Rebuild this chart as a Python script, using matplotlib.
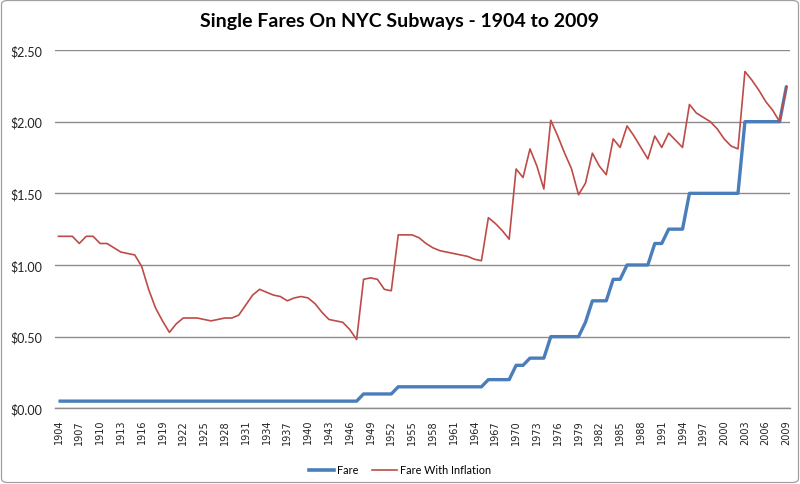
import matplotlib
matplotlib.use("Agg")
import matplotlib.pyplot as plt
from matplotlib.patches import FancyBboxPatch
from matplotlib.lines import Line2D
from matplotlib.ticker import FuncFormatter, FixedLocator

years = list(range(1904, 2010))

fare = [
    0.05, 0.05, 0.05, 0.05, 0.05, 0.05, 0.05, 0.05, 0.05, 0.05,  # 1904-1913
    0.05, 0.05, 0.05, 0.05, 0.05, 0.05, 0.05, 0.05, 0.05, 0.05,  # 1914-1923
    0.05, 0.05, 0.05, 0.05, 0.05, 0.05, 0.05, 0.05, 0.05, 0.05,  # 1924-1933
    0.05, 0.05, 0.05, 0.05, 0.05, 0.05, 0.05, 0.05, 0.05, 0.05,  # 1934-1943
    0.05, 0.05, 0.05, 0.05, 0.10, 0.10, 0.10, 0.10, 0.10, 0.15,  # 1944-1953
    0.15, 0.15, 0.15, 0.15, 0.15, 0.15, 0.15, 0.15, 0.15, 0.15,  # 1954-1963
    0.15, 0.15, 0.20, 0.20, 0.20, 0.20, 0.30, 0.30, 0.35, 0.35,  # 1964-1973
    0.35, 0.50, 0.50, 0.50, 0.50, 0.50, 0.60, 0.75, 0.75, 0.75,  # 1974-1983
    0.90, 0.90, 1.00, 1.00, 1.00, 1.00, 1.15, 1.15, 1.25, 1.25,  # 1984-1993
    1.25, 1.50, 1.50, 1.50, 1.50, 1.50, 1.50, 1.50, 1.50, 2.00,  # 1994-2003
    2.00, 2.00, 2.00, 2.00, 2.00, 2.25,                          # 2004-2009
]

fare_inflation = [
    1.20, 1.20, 1.20, 1.15, 1.20, 1.20, 1.15, 1.15, 1.12, 1.09,  # 1904-1913
    1.08, 1.07, 0.99, 0.83, 0.70, 0.61, 0.53, 0.59, 0.63, 0.63,  # 1914-1923
    0.63, 0.62, 0.61, 0.62, 0.63, 0.63, 0.65, 0.72, 0.79, 0.83,  # 1924-1933
    0.81, 0.79, 0.78, 0.75, 0.77, 0.78, 0.77, 0.73, 0.67, 0.62,  # 1934-1943
    0.61, 0.60, 0.55, 0.48, 0.90, 0.91, 0.90, 0.83, 0.82, 1.21,  # 1944-1953
    1.21, 1.21, 1.19, 1.15, 1.12, 1.10, 1.09, 1.08, 1.07, 1.06,  # 1954-1963
    1.04, 1.03, 1.33, 1.29, 1.24, 1.18, 1.67, 1.61, 1.81, 1.69,  # 1964-1973
    1.53, 2.01, 1.90, 1.78, 1.67, 1.49, 1.57, 1.78, 1.69, 1.63,  # 1974-1983
    1.88, 1.82, 1.97, 1.90, 1.82, 1.74, 1.90, 1.82, 1.92, 1.87,  # 1984-1993
    1.82, 2.12, 2.06, 2.03, 2.00, 1.95, 1.88, 1.83, 1.81, 2.35,  # 1994-2003
    2.29, 2.22, 2.14, 2.08, 2.00, 2.25,                          # 2004-2009
]

y_ticks = [0.0, 0.5, 1.0, 1.5, 2.0, 2.5]
title = "Single Fares On NYC Subways - 1904 to 2009"
series_names = ["Fare", "Fare With Inflation"]

BLUE = "#4A7EBB"
RED = "#BE4B48"
GRID = "#8C8C8C"

fig = plt.figure(figsize=(8.0, 4.85), dpi=100, facecolor="white")
W, H = 800, 485

left, right = 55 / W, 790 / W
bottom, top = (H - 409.3) / H, (H - 51) / H
ax = fig.add_axes([left, bottom, right - left, top - bottom])
ax.set_facecolor("none")

x = list(range(len(years)))
ax.plot(x, fare, color=BLUE, lw=2.4, solid_capstyle="butt", zorder=3)
ax.plot(x, fare_inflation, color=RED, lw=1.2, zorder=4)

ax.set_xlim(-0.5, len(years) - 0.5)
ax.set_ylim(0, 2.5)

ax.yaxis.set_major_locator(FixedLocator(y_ticks))
ax.yaxis.set_major_formatter(FuncFormatter(lambda v, p: f"${v:.2f}"))
ax.grid(axis="y", color=GRID, lw=1.0)
ax.set_axisbelow(True)

tick_idx = list(range(0, len(years), 3))
ax.set_xticks(tick_idx)
ax.set_xticklabels([str(years[i]) for i in tick_idx], rotation=90,
                   fontsize=7, family="DejaVu Sans", color="#222222")

for s in ["top", "right", "left"]:
    ax.spines[s].set_visible(False)
ax.spines["bottom"].set_color(GRID)
ax.spines["bottom"].set_linewidth(1.0)
ax.tick_params(axis="both", length=0)
ax.tick_params(axis="x", pad=7.7)
ax.tick_params(axis="y", pad=9.4)
for lab in ax.get_yticklabels():
    lab.set_family("Lato")
    lab.set_fontsize(9)
    lab.set_color("#222222")

fig.text(0.5, (H - 22) / H, title, ha="center", va="center",
         fontsize=14, fontweight="bold", family="Lato", color="black")

handles = [Line2D([], [], color=BLUE, lw=2.6),
           Line2D([], [], color=RED, lw=1.2)]
fig.legend(handles, series_names, loc="center",
           bbox_to_anchor=(0.5, (H - 471) / H), ncol=2, frameon=False,
           prop={"family": "Lato", "size": 7.8}, handlelength=2.3,
           handletextpad=0.25, columnspacing=1.3)

# chart border (drawn on top, no fill)
border = FancyBboxPatch((1.5 / W, 1.5 / H), 1 - 3.0 / W, 1 - 3.0 / H,
                        boxstyle="round,pad=0,rounding_size=0.008",
                        transform=fig.transFigure, facecolor="none",
                        edgecolor="#A0A0A0", linewidth=0.9, zorder=10)
fig.patches.append(border)

fig.savefig("out.png", dpi=100, facecolor="white")
